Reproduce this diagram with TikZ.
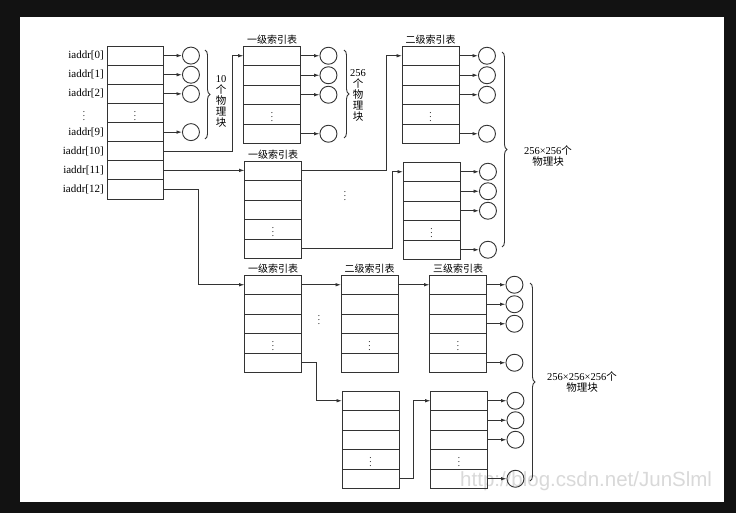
\documentclass[tikz,border=0pt]{standalone}
\usepackage{fontspec}
\setmainfont{Liberation Serif}
\newfontfamily\cjk{Noto Sans CJK SC}
\newfontfamily\wmfont{Liberation Sans}
\newcommand\zh[1]{{\cjk #1}}
\usetikzlibrary{positioning,arrows.meta,decorations.pathreplacing}

\begin{document}
\begin{tikzpicture}[x=1pt,y=-1pt,
    cell/.style={draw=black!80,line width=0.9pt,minimum width=57pt,minimum height=19.5pt,inner sep=0pt,outer sep=0pt,font=\small},
    blk/.style={draw=black!80,line width=0.9pt,circle,minimum size=17pt,inner sep=0pt},
    arr/.style={draw=black!80,line width=0.9pt,-{Latex[length=5.5pt,width=3.6pt]}},
    brc/.style={draw=black!80,line width=0.9pt,decorate,decoration={brace,amplitude=5pt}},
    tlabel/.style={font=\cjk\fontsize{10}{12}\selectfont,inner sep=1pt},
    note/.style={font=\fontsize{10.5}{11}\selectfont,align=center,inner sep=0pt}]
    % Draw the dark frame
    \fill[black!93] (0,0) rectangle (736,513);
    \fill[white] (20,17) rectangle (724,502);
    \node[anchor=base west,text=black!15,font=\wmfont\fontsize{20.5}{20.5}\selectfont,inner sep=0pt] (wm) at (460,486) {http://blog.csdn.net/JunSlml};
    % Draw the inode address table
    \foreach \i in {0,...,7}
        \node[cell,minimum width=56pt,minimum height=19.13pt] (in-\i) at (135,55.6+\i*19.13) {\ifnum\i=3 $\vdots$\fi};
    \foreach \i/\t in {0/0,1/1,2/2,4/9,5/10,6/11,7/12}
        \node[left=3pt of in-\i,font=\fontsize{11}{12}\selectfont,inner sep=0pt] (lb-\i) {iaddr[\t]};
    \node[font=\small] (lb-3) at ([xshift=-23pt]in-3.west) {$\vdots$};
    % Draw the index tables
    \foreach \t/\x/\y in {t1/272/46,t2/273/161,t3/430.5/46,t4/431.5/162,t5/273/275,t6/369.5/275,t7/458/275,t8/370.5/391,t9/459/391}{
        \foreach \i in {0,...,4}
            \node[cell] (\t-\i) at (\x,\y+9.75+\i*19.5) {\ifnum\i=3 $\vdots$\fi};
    }
    \node[tlabel,above=0pt of t1-0] {一级索引表};
    \node[tlabel,above=0pt of t2-0] {一级索引表};
    \node[tlabel,above=0pt of t3-0] {二级索引表};
    \node[tlabel,above=0pt of t5-0] {一级索引表};
    \node[tlabel,above=0pt of t6-0] {二级索引表};
    \node[tlabel,above=0pt of t7-0] {三级索引表};
    % Draw the physical blocks
    \foreach \t in {in,t1,t3,t4,t7,t9}
        \foreach \i in {0,1,2,4}{
            \node[blk,right=19pt of \t-\i] (\t-\i-b) {};
            \draw[arr] (\t-\i) -- (\t-\i-b);
        }
    % Draw the pointers between tables
    \draw[arr] (in-5.east) -- ++(69,0) |- (t1-0.west);
    \draw[arr] (in-6.east) -- (in-6.east -| t2-0.west);
    \draw[arr] (in-7.east) -- ++(35,0) |- (t5-0.west);
    \draw[arr] (t2-0.east) -- ++(85,0) |- (t3-0.west);
    \draw[arr] (t2-4.east) -- ++(91,0) |- (t4-0.west);
    \draw[arr] (t5-0) -- (t6-0);
    \draw[arr] (t6-0) -- (t7-0);
    \draw[arr] (t5-4.east) -- ++(15,0) |- (t8-0.west);
    \draw[arr] (t8-4.east) -- ++(14,0) |- (t9-0.west);
    \node[font=\small] (gap1) at (345,193) {$\vdots$};
    \node[font=\small] (gap2) at (319,317) {$\vdots$};
    % Draw the braces
    \draw[brc] (205,50) -- (205,139);
    \node[note] (n1) at (221,101) {10\\\zh{个}\\\zh{物}\\\zh{理}\\\zh{块}};
    \draw[brc] (344,50) -- (344,138);
    \node[note] (n2) at (358,95) {256\\\zh{个}\\\zh{物}\\\zh{理}\\\zh{块}};
    \draw[brc] (502,52) -- (502,247);
    \node[note] (n3) at (548,156) {256×256\zh{个}\\\zh{物理块}};
    \draw[brc] (530,283) -- (530,481);
    \node[note] (n4) at (582,382) {256×256×256\zh{个}\\\zh{物理块}};
\end{tikzpicture}
\end{document}
